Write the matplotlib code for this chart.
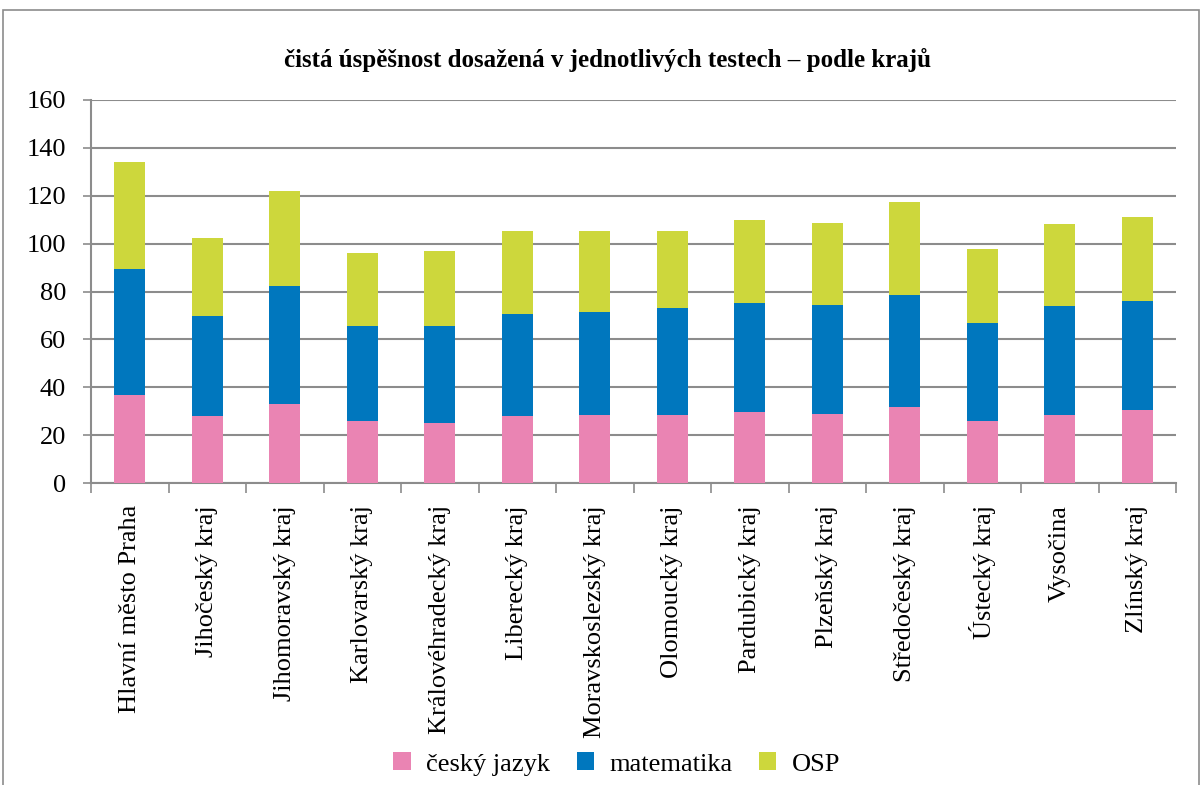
import matplotlib.pyplot as plt
import numpy as np
from matplotlib.patches import Rectangle

# regions and values
kraje = ["Hlavní město Praha", "Jihočeský kraj", "Jihomoravský kraj", "Karlovarský kraj",
         "Královéhradecký kraj", "Liberecký kraj", "Moravskoslezský kraj", "Olomoucký kraj",
         "Pardubický kraj", "Plzeňský kraj", "Středočeský kraj", "Ústecký kraj",
         "Vysočina", "Zlínský kraj"]
cesky = [36.8, 28.0, 33.2, 26.0, 25.0, 28.0, 28.6, 28.6, 29.7, 29.0, 31.8, 26.0, 28.6, 30.7]
matematika = [52.6, 41.8, 49.0, 39.7, 40.7, 42.8, 42.8, 44.3, 45.3, 45.4, 46.9, 40.8, 45.4, 45.4]
osp = [44.5, 32.5, 39.7, 30.5, 31.1, 34.6, 34.0, 32.5, 35.0, 34.2, 38.6, 31.0, 34.2, 35.0]

title = "čistá úspěšnost dosažená v jednotlivých testech – podle krajů"
series_names = ["český jazyk", "matematika", "OSP"]
colors = ["#EA84B3", "#0077BE", "#CDD73C"]

plt.rcParams['font.family'] = ['Liberation Serif', 'DejaVu Serif']

fig = plt.figure(figsize=(12.03, 7.85), dpi=100)
ax = fig.add_axes([91 / 1203, 1 - 483 / 785, (1176 - 91) / 1203, (483 - 100) / 785])

x = np.arange(len(kraje))
bottom = np.zeros(len(kraje))
for vals, name, c in zip([cesky, matematika, osp], series_names, colors):
    ax.bar(x, vals, width=0.4, bottom=bottom, color=c, label=name, zorder=3)
    bottom += np.array(vals)

ax.set_xlim(-0.5, len(kraje) - 0.5)
ax.set_ylim(0, 160)
ax.set_yticks(np.arange(0, 161, 20))
ax.yaxis.grid(True, color="#8c8c8c", linewidth=1.5, zorder=0)
ax.set_axisbelow(True)

ax.set_xticks(x)
ax.set_xticklabels(kraje, rotation=90, fontsize=19)
ax.set_xticks(np.arange(-0.5, len(kraje), 1), minor=True)
ax.tick_params(axis='x', which='major', length=0, pad=16)
ax.tick_params(axis='x', which='minor', length=7, color="#8c8c8c", width=1.2)
ax.tick_params(axis='y', labelsize=19, length=6, color="#8c8c8c", width=1.2, pad=12)

for side in ["top", "right"]:
    ax.spines[side].set_visible(False)
for side in ["left", "bottom"]:
    ax.spines[side].set_color("#8c8c8c")
    ax.spines[side].set_linewidth(1.5)

fig.text(608 / 1203, 1 - 60 / 785, title, ha="center", va="center",
         fontsize=18, fontweight="bold")

fig.legend(loc="center", bbox_to_anchor=(617 / 1203, 1 - 764 / 785), ncol=3,
           frameon=False, fontsize=19, handlelength=0.65, handleheight=0.65,
           columnspacing=1.0, handletextpad=0.6, borderaxespad=0)

# outer chart border
fig.patches.append(Rectangle((3 / 1203, -0.01), 1196 / 1203, 1 - 10 / 785 + 0.01,
                             transform=fig.transFigure, fill=False,
                             edgecolor="#8c8c8c", linewidth=1.2))

fig.savefig("out.png", dpi=100)
